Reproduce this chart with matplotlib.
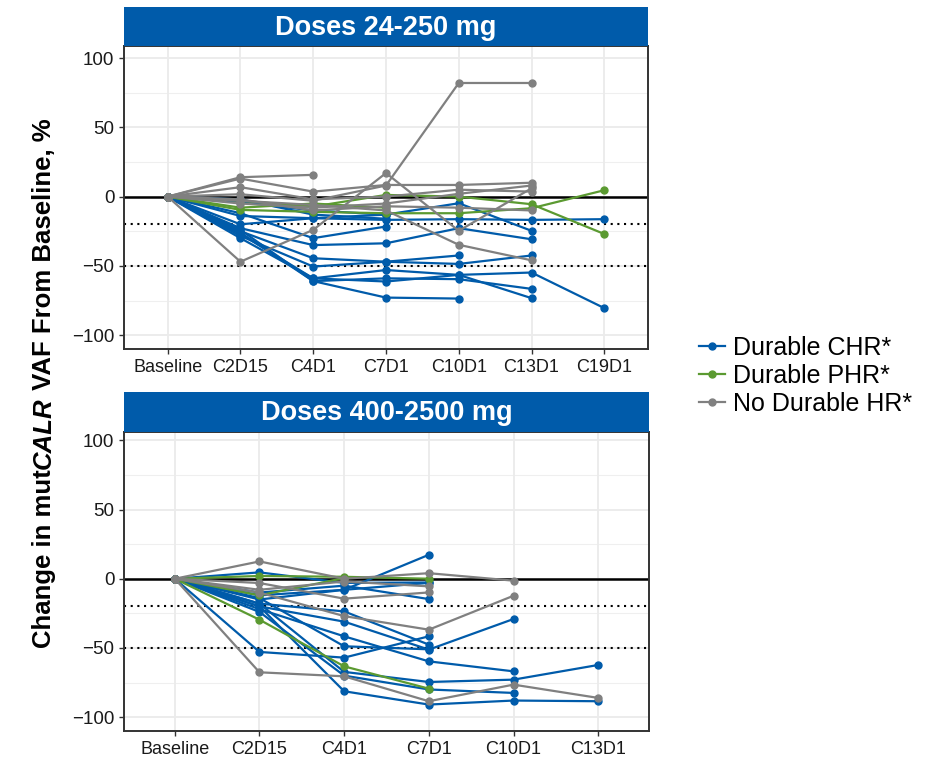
import numpy as np
import matplotlib
matplotlib.use('Agg')
import matplotlib.pyplot as plt
from matplotlib import font_manager
from matplotlib.lines import Line2D

# visit labels
visits_low = ['Baseline', 'C2D15', 'C4D1', 'C7D1', 'C10D1', 'C13D1', 'C19D1']
visits_high = ['Baseline', 'C2D15', 'C4D1', 'C7D1', 'C10D1', 'C13D1']

# change in mutCALR VAF (%) per patient, doses 24-250 mg
low_chr = [
    [0, -14, -15.6, -16.8, -16.3, -16.8, -16.3],
    [0, -4, -10, -13, -4.8, -24.7],
    [0, -22.8, -35, -33.7, -22.8, -30.8],
    [0, -25, -44.5, -47, -42.5],
    [0, -28.4, -50.5, -47, -48.6, -42.5],
    [0, -30, -59, -53, -56.5, -54.8, -80.5],
    [0, -26, -61, -59, -59.6, -66.6],
    [0, -27, -59, -61.3, -56.5, -73.3],
    [0, -24, -61, -72.9, -73.6],
    [0, -12, -30, -21.6],
    [0, -2, -13, -16],
    [0, -20, -15.6, -13],
]
low_phr = [
    [0, -9.6, -11, -12, -12, -8.4, 4.6],
    [0, -3, -7.2, 1.2, 0, -5.5, -27],
    [0, -8, -5, -8],
]
low_nohr = [
    [0, -47, -24, 17, -24.7, 6],
    [0, 1.7, -3, 8, 82, 82],
    [0, 14, 15.7],
    [0, 13, 3.6, 8.4, 8.4, 10],
    [0, 6.8, -2, 0, 5, 3.6],
    [0, -3, -6, -10, -34.8, -46],
    [0, -5, -8, -5, 2, 8],
    [0, -2, -10, -7, -8, -10],
]

# doses 400-2500 mg
high_chr = [
    [0, -15, -8, 17.3],
    [0, 4.6, -3, -2.7],
    [0, -10, -5, -14.7],
    [0, -18, -23.6, -47.6],
    [0, -20, -31, -51.2, -29.1],
    [0, -22, -41.6, -59.7, -66.9],
    [0, -52.9, -57, -41.6],
    [0, -14, -48.8, -51],
    [0, -18, -67.3, -74.6, -72.9, -62.3],
    [0, -24, -70, -80, -82.5],
    [0, -20, -81.3, -90.9, -88, -88.5],
    [0, -12, -8, -3],
]
high_phr = [
    [0, -29.6, -63.3, -79.4],
    [0, 2, 1.4, 0],
    [0, -12, 0.5],
]
high_nohr = [
    [0, 12.5, 0, 4, -1.4],
    [0, -67.6, -70.5, -88.5, -76.5, -86.1],
    [0, -3.1, -14.4, -9.9],
    [0, -10, -27, -36.8, -12.3],
    [0, -8, -2, -5.5],
]

group_names = ['Durable CHR*', 'Durable PHR*', 'No Durable HR*']
colors = ['#005BAA', '#5B9A31', '#808080']

available = {f.name for f in font_manager.fontManager.ttflist}
has_narrow = 'Liberation Sans Narrow' in available
plt.rcParams['font.family'] = ['Liberation Sans', 'DejaVu Sans']
title_family = ['Liberation Sans Narrow', 'Liberation Sans'] if has_narrow else ['Liberation Sans']
strip_size = 22 if has_narrow else 19.5
ylab_size = 21 if has_narrow else 18.5

W, H = 925, 761
fig = plt.figure(figsize=(W / 100, H / 100), dpi=100)


def px_axes(left, top, right, bottom):
    return [left / W, 1 - bottom / H, (right - left) / W, (bottom - top) / H]


def draw_panel(box, strip_box, visits, groups, ylim, title):
    ax = fig.add_axes(px_axes(*box))
    x = np.arange(len(visits))
    for v in [-75, -25, 25, 75]:
        ax.axhline(v, color='#EFEFEF', lw=0.8, zorder=0)
    for v in [-100, -50, 0, 50, 100]:
        ax.axhline(v, color='#EBEBEB', lw=1.3, zorder=0)
    for xi in x:
        ax.axvline(xi, color='#EBEBEB', lw=1.3, zorder=0)
    ax.axhline(0, color='black', lw=1.8, zorder=1)
    ax.axhline(-20, color='black', lw=1.5, ls=(0, (1, 2.2)), zorder=1)
    ax.axhline(-50, color='black', lw=1.5, ls=(0, (1, 2.2)), zorder=1)
    for series, color in zip(groups, colors):
        for s in series:
            y = np.array(list(s) + [None] * (len(visits) - len(s)), dtype=float)
            ax.plot(x, y, color=color, lw=1.6, marker='o', ms=5, zorder=2)
    ax.set_xlim(-0.6, len(visits) - 0.4)
    ax.set_ylim(*ylim)
    ax.set_xticks(x)
    ax.set_xticklabels(visits)
    ax.set_yticks([-100, -50, 0, 50, 100])
    ax.set_yticklabels(['\u2212100', '\u221250', '0', '50', '100'])
    ax.tick_params(labelsize=13, colors='#333333', labelcolor='#1A1A1A', length=3.5, width=1.0)
    ax.tick_params(axis='y', labelsize=13.5)
    for sp in ax.spines.values():
        sp.set_color('#333333')
        sp.set_linewidth(1.4)

    st = fig.add_axes(px_axes(*strip_box))
    st.set_facecolor('#005BAA')
    st.set_xticks([])
    st.set_yticks([])
    for sp in st.spines.values():
        sp.set_visible(False)
    st.text(0.5, 0.47, title, color='white', fontsize=strip_size, fontweight='bold',
            family=title_family, ha='center', va='center', transform=st.transAxes)
    return ax


draw_panel((124, 46, 648, 349), (124, 7, 648, 46), visits_low,
           [low_chr, low_phr, low_nohr], (-110, 108.7), 'Doses 24-250 mg')
draw_panel((124, 432, 649, 731), (124, 392, 649, 432), visits_high,
           [high_chr, high_phr, high_nohr], (-110, 106), 'Doses 400-2500 mg')

# legend
handles = [Line2D([0], [0], color=c, lw=1.6, marker='o', ms=5) for c in colors]
fig.legend(handles, group_names, loc='center left', bbox_to_anchor=(699 / W, 1 - 376 / H),
           frameon=False, fontsize=18, handlelength=1.05, handletextpad=0.3,
           labelspacing=0.16, borderaxespad=0, borderpad=0)

# y label with italic gene name, assembled piece by piece
fig.canvas.draw()
renderer = fig.canvas.get_renderer()
pieces = [('Change in mut', 'normal'), ('CALR', 'italic'), (' VAF From Baseline, %', 'normal')]
texts = []
for s, style in pieces:
    t = fig.text(0, 0, s, rotation=90, rotation_mode='anchor', ha='left', va='baseline',
                 fontsize=ylab_size, fontweight='bold', style=style, family=title_family)
    texts.append(t)
heights = [t.get_window_extent(renderer).height for t in texts]
start = (H - 383) - sum(heights) / 2
for t, h in zip(texts, heights):
    t.set_position((51 / W, start / H))
    start += h

fig.savefig('out.png', dpi=100)
